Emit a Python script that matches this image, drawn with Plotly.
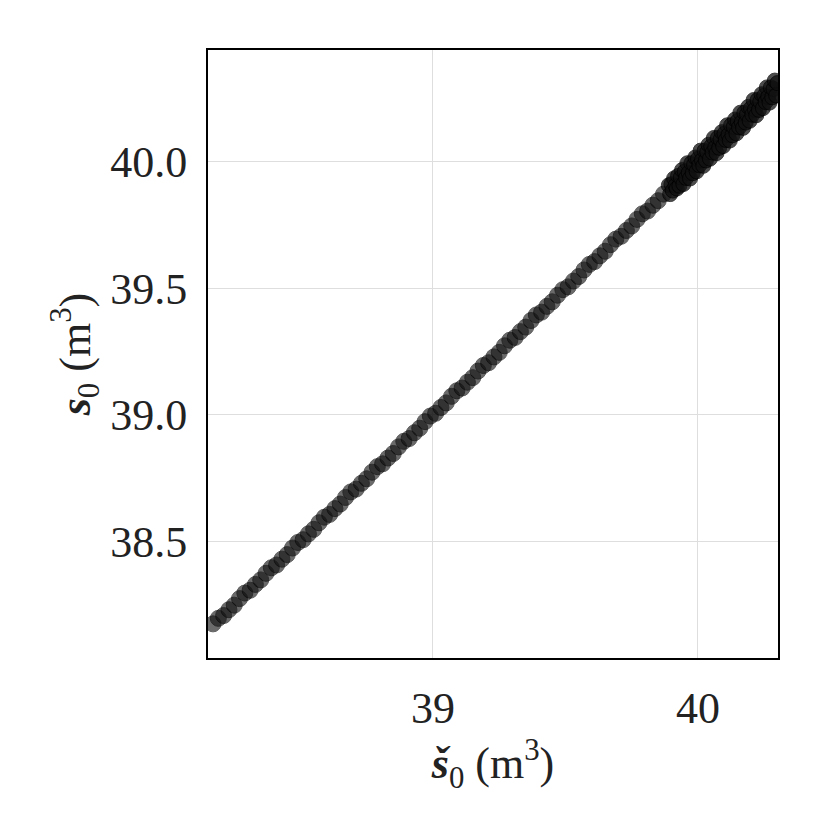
"""
plot.py — estimated vs. actual initial storage, scatter along the identity line
"""
import plotly.graph_objects as go

# ── Styling ────────────────────────────────────────────────────────────
FONT = "'Liberation Serif', 'DejaVu Serif', serif"
TEXT = "#222222"
GRID = "#dedede"
MARKER_FILL = "#111111"

# ── Data (m3) ──────────────────────────────────────────────────────────
# sparse part of the cloud
s0_est_low = [
    38.17, 38.19, 38.21, 38.23, 38.25, 38.27, 38.29, 38.31, 38.33, 38.35,
    38.37, 38.39, 38.41, 38.43, 38.45, 38.47, 38.49, 38.51, 38.53, 38.55,
    38.57, 38.59, 38.61, 38.63, 38.65, 38.67, 38.69, 38.71, 38.73, 38.75,
    38.77, 38.79, 38.81, 38.83, 38.85, 38.87, 38.89, 38.91, 38.93, 38.95,
    38.97, 38.99, 39.01, 39.03, 39.05, 39.07, 39.09, 39.11, 39.13, 39.15,
    39.17, 39.19, 39.21, 39.23, 39.25, 39.27, 39.29, 39.31, 39.33, 39.35,
    39.37, 39.39, 39.41, 39.43, 39.45, 39.47, 39.49, 39.51, 39.53, 39.55,
    39.57, 39.59, 39.61, 39.63, 39.65, 39.67, 39.69, 39.71, 39.73, 39.75,
    39.77, 39.79, 39.81, 39.83, 39.85, 39.87,
]
s0_low = [
    38.173, 38.195, 38.206, 38.229, 38.247, 38.273, 38.295, 38.306, 38.329, 38.347,
    38.373, 38.395, 38.406, 38.429, 38.447, 38.473, 38.495, 38.506, 38.529, 38.547,
    38.573, 38.595, 38.606, 38.629, 38.647, 38.673, 38.695, 38.706, 38.729, 38.747,
    38.773, 38.795, 38.806, 38.829, 38.847, 38.873, 38.895, 38.906, 38.929, 38.947,
    38.973, 38.995, 39.006, 39.029, 39.047, 39.073, 39.095, 39.106, 39.129, 39.147,
    39.173, 39.195, 39.206, 39.229, 39.247, 39.273, 39.295, 39.306, 39.329, 39.347,
    39.373, 39.395, 39.406, 39.429, 39.447, 39.473, 39.495, 39.506, 39.529, 39.547,
    39.573, 39.595, 39.606, 39.629, 39.647, 39.673, 39.695, 39.706, 39.729, 39.747,
    39.773, 39.795, 39.806, 39.829, 39.847, 39.873,
]

# dense part of the cloud near full storage
s0_est_high = [
    39.890, 39.895, 39.900, 39.905, 39.910, 39.915, 39.920, 39.925, 39.930, 39.935,
    39.940, 39.945, 39.950, 39.955, 39.960, 39.965, 39.970, 39.975, 39.980, 39.985,
    39.990, 39.995, 40.000, 40.005, 40.010, 40.015, 40.020, 40.025, 40.030, 40.035,
    40.040, 40.045, 40.050, 40.055, 40.060, 40.065, 40.070, 40.075, 40.080, 40.085,
    40.090, 40.095, 40.100, 40.105, 40.110, 40.115, 40.120, 40.125, 40.130, 40.135,
    40.140, 40.145, 40.150, 40.155, 40.160, 40.165, 40.170, 40.175, 40.180, 40.185,
    40.190, 40.195, 40.200, 40.205, 40.210, 40.215, 40.220, 40.225, 40.230, 40.235,
    40.240, 40.245, 40.250, 40.255, 40.260, 40.265, 40.270, 40.275, 40.280, 40.285,
    40.290, 40.295, 40.300,
]
s0_high = [
    39.908, 39.873, 39.912, 39.887, 39.935, 39.907, 39.895, 39.945, 39.906, 39.939,
    39.968, 39.913, 39.962, 39.937, 39.995, 39.957, 39.935, 39.995, 39.956, 39.989,
    40.018, 39.963, 40.012, 39.987, 40.045, 40.007, 39.985, 40.045, 40.006, 40.039,
    40.068, 40.013, 40.062, 40.037, 40.095, 40.057, 40.035, 40.095, 40.056, 40.089,
    40.118, 40.063, 40.112, 40.087, 40.145, 40.107, 40.085, 40.145, 40.106, 40.139,
    40.168, 40.113, 40.162, 40.137, 40.195, 40.157, 40.135, 40.195, 40.156, 40.189,
    40.218, 40.163, 40.212, 40.187, 40.245, 40.207, 40.185, 40.245, 40.206, 40.239,
    40.268, 40.213, 40.262, 40.237, 40.295, 40.257, 40.235, 40.295, 40.256, 40.289,
    40.322, 40.263, 40.312,
]

x_ticks = [39, 40]
x_ticklabels = ["39", "40"]
y_ticks = [38.5, 39.0, 39.5, 40.0]
y_ticklabels = ["38.5", "39.0", "39.5", "40.0"]

# ── Figure ─────────────────────────────────────────────────────────────
fig = go.Figure()
fig.add_trace(go.Scatter(
    x=s0_est_low,
    y=s0_low,
    mode="markers",
    marker=dict(size=16, color=MARKER_FILL, opacity=0.62,
                line=dict(color="black", width=1)),
    showlegend=False,
))
fig.add_trace(go.Scatter(
    x=s0_est_high,
    y=s0_high,
    mode="markers",
    marker=dict(size=15, color=MARKER_FILL, opacity=0.75,
                line=dict(color="black", width=1)),
    showlegend=False,
))

axis_common = dict(
    showgrid=True, gridcolor=GRID, gridwidth=1,
    zeroline=False,
    showline=True, linecolor="black", linewidth=2, mirror=True,
    ticks="outside", ticklen=10, tickcolor="rgba(0,0,0,0)",
    tickfont=dict(family=FONT, size=44, color=TEXT),
    title_font=dict(family=FONT, size=44, color=TEXT),
)

fig.update_xaxes(
    range=[38.151, 40.302],
    tickvals=x_ticks, ticktext=x_ticklabels,
    title_text="<b><i>š</i></b><sub>0</sub> (m<sup>3</sup>)",
    title_standoff=2,
    **axis_common,
)
fig.update_yaxes(
    range=[38.038, 40.443],
    tickvals=y_ticks, ticktext=y_ticklabels,
    title_text="<b><i>s</i></b><sub>0</sub> (m<sup>3</sup>)",
    title_standoff=6,
    **axis_common,
)

fig.update_layout(
    width=830, height=830,
    margin=dict(l=200, r=60, t=42, b=180),
    paper_bgcolor="white",
    plot_bgcolor="white",
    font=dict(family=FONT, color=TEXT, size=44),
)

fig.write_html("out.html")
